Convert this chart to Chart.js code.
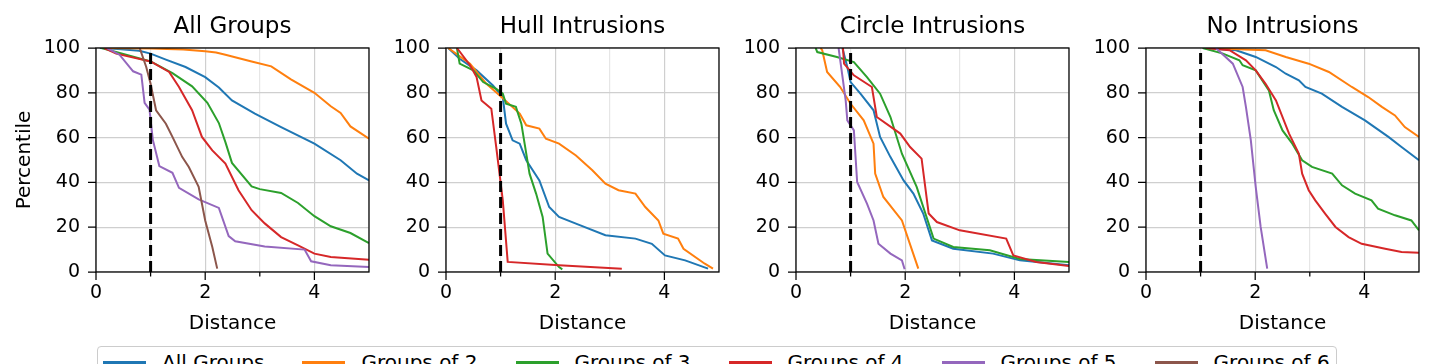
<!DOCTYPE html>
<html lang="en">
<head>
<meta charset="utf-8" />
<title>Distance percentiles by intrusion type</title>
<script src="https://cdn.jsdelivr.net/npm/chart.js"></script>
<style>
    html, body { margin: 0; padding: 0; background: #fff; overflow: hidden; }
    body { width: 1435px; height: 364px; position: relative; font-family: "DejaVu Sans", sans-serif; }
    .panel { position: absolute; top: 0; height: 336px; }
    #legend {
        position: absolute; left: 97px; top: 346px; height: 44px;
        border: 1px solid #cccccc; border-radius: 4px; background: #fff;
        display: flex; column-gap: 38px; padding: 3px 6px 0 5px; box-sizing: border-box;
        font-size: 20px; line-height: 24px; color: #000; white-space: nowrap;
    }
    #legend .item { display: flex; align-items: flex-start; }
    #legend .handle { display: inline-block; width: 43px; height: 2.5px; margin: 11px 16px 0 0; }
</style>
</head>
<body>
<div class="panel" id="wrap0"><canvas id="chart0"></canvas></div>
<div class="panel" id="wrap1"><canvas id="chart1"></canvas></div>
<div class="panel" id="wrap2"><canvas id="chart2"></canvas></div>
<div class="panel" id="wrap3"><canvas id="chart3"></canvas></div>
<div id="legend"></div>

<script>
    // ---- data: [distance, percentile] ----
    const panelTitles = ['All Groups', 'Hull Intrusions', 'Circle Intrusions', 'No Intrusions'];
    const seriesNames = ['All Groups', 'Groups of 2', 'Groups of 3', 'Groups of 4', 'Groups of 5', 'Groups of 6'];
    const seriesColors = ['#1f77b4', '#ff7f0e', '#2ca02c', '#d62728', '#9467bd', '#8c564b'];
    const xMajorTicks = [0, 2, 4];
    const yTicks = [0, 20, 40, 60, 80, 100];
    const threshold = 1;

    // All Groups panel
    const allAll = [[0.07,100],[0.4,99.5],[0.79,98.8],[1.0,97.5],[1.28,94.8],[1.64,91.5],[2.0,87],[2.25,82.4],[2.49,76.6],[2.91,70.7],[3.39,64.7],[4.0,57.3],[4.48,49.9],[4.78,43.9],[5.0,40.9]];
    const allG2 = [[0.1,100],[1.0,99.8],[1.6,99.3],[2.0,98.5],[2.2,98],[2.37,97],[2.85,94],[3.21,91.8],[3.57,86],[4.0,80],[4.3,74],[4.48,71],[4.66,65],[5.0,59.5]];
    const allG3 = [[0.1,100],[0.25,99],[1.0,94],[1.4,88.8],[1.76,82.9],[2.04,75.5],[2.25,66.5],[2.37,58],[2.49,48.7],[2.85,38.2],[3.0,37],[3.39,35.3],[3.7,30.8],[4.0,24.9],[4.3,20.4],[4.66,17.4],[5.0,12.9]];
    const allG4 = [[0.15,100],[0.37,97.5],[1.0,94],[1.34,89.3],[1.52,82.6],[1.76,72.2],[1.94,60.3],[2.13,54.3],[2.37,48.4],[2.61,36.5],[2.85,27.6],[3.09,21.7],[3.39,15.6],[3.7,11.9],[4.0,8.2],[4.3,6.7],[5.0,5.5]];
    const allG5 = [[0.2,100],[0.43,97],[0.68,89.6],[0.83,88.1],[0.89,75.5],[0.98,72.5],[1.04,59.1],[1.16,47.3],[1.4,44.3],[1.52,37.6],[1.88,32.4],[2.25,28.6],[2.43,16],[2.55,13.7],[3.09,11.4],[3.82,10],[3.94,4.8],[4.3,3],[5.0,2.2]];
    const allG6 = [[0.8,100],[0.92,91.5],[1.0,84],[1.1,72.2],[1.28,66.2],[1.4,60.3],[1.58,51.3],[1.7,46.9],[1.88,38],[2.0,23],[2.13,11.2],[2.22,1.5]];

    // Hull Intrusions panel
    const hullAll = [[0.04,100],[0.25,95.2],[0.56,90],[0.86,83.3],[1.04,78],[1.1,66.2],[1.22,58.8],[1.35,57.3],[1.47,49.9],[1.71,40.9],[1.89,29],[2.07,24.6],[2.38,21.6],[2.92,16.4],[3.47,14.9],[3.77,12.6],[4.01,7.4],[4.38,5.2],[4.8,1.5]];
    const hullG2 = [[0.04,100],[0.44,93],[0.74,84],[0.98,78.9],[1.35,70.7],[1.47,65.5],[1.71,64],[1.83,59.5],[2.07,57.3],[2.38,52],[2.68,45.4],[2.92,39.4],[3.16,36.5],[3.47,35],[3.65,29],[3.89,23],[3.98,17.1],[4.25,14.9],[4.35,10.4],[4.74,3.7],[4.89,1.5]];
    const hullG3 = [[0.2,100],[0.25,93],[0.5,90],[0.68,84.8],[0.92,81.8],[1.04,79.6],[1.1,75.1],[1.28,73.7],[1.38,66.2],[1.44,57.3],[1.53,43.9],[1.65,35],[1.77,24.6],[1.86,8.2],[2.07,2.2],[2.13,1.2]];
    const hullG4 = [[0.2,100],[0.44,92.3],[0.56,87],[0.65,76.6],[0.83,72.9],[0.92,55.8],[0.98,43.9],[1.04,32],[1.13,4.5],[2.07,3],[3.22,1.5]];

    // Circle Intrusions panel
    const circAll = [[0.85,100],[0.94,91.5],[1.0,84.8],[1.18,79.6],[1.42,72.2],[1.54,60.3],[1.73,51.3],[1.97,40.9],[2.15,35],[2.33,26.1],[2.49,14.1],[2.88,10.4],[3.61,8.2],[4.1,5.2],[5.0,3]];
    const circG2 = [[0.45,100],[0.48,99],[0.57,89.3],[0.81,82.6],[1.0,75.1],[1.24,67.7],[1.42,57.3],[1.45,43.9],[1.6,33.5],[1.94,23],[2.24,1.5]];
    const circG3 = [[0.36,100],[0.39,98.2],[0.75,96],[1.06,93.7],[1.3,87],[1.54,79.6],[1.73,69.2],[1.94,52.8],[2.21,38],[2.52,14.9],[2.88,11.2],[3.55,9.7],[4.1,5.8],[5.0,4.5]];
    const circG4 = [[0.86,100],[0.88,93],[1.06,87.8],[1.39,82.6],[1.48,69.2],[1.91,61.8],[2.09,55.8],[2.3,50.6],[2.43,26.1],[2.58,22.3],[3.0,18.6],[3.85,14.9],[3.98,7.4],[4.4,4.5],[5.0,2.7]];
    const circG5 = [[0.78,100],[0.91,76.6],[0.94,67.7],[1.06,63.2],[1.12,40.2],[1.3,30.5],[1.42,23],[1.51,12.6],[1.73,8.2],[1.94,5.2],[1.99,1.2]];

    // No Intrusions panel
    const noneAll = [[1.04,100],[1.65,99],[2.01,96],[2.38,91.5],[2.56,88.5],[2.8,85.6],[2.92,82.6],[3.22,79.6],[3.59,73.7],[4.01,67.7],[4.44,60.3],[4.68,55.8],[5.0,49.9]];
    const noneG2 = [[1.04,100],[2.19,99],[2.56,96],[2.98,93],[3.35,89.3],[3.77,82.6],[4.07,78.1],[4.32,73.7],[4.56,69.9],[4.74,64.7],[5.0,60.3]];
    const noneG3 = [[1.04,100],[1.41,97.5],[1.71,94.5],[1.77,92.3],[2.01,90],[2.25,81.1],[2.34,72.2],[2.5,63.2],[2.68,57.3],[2.86,49.9],[3.04,46.9],[3.41,43.9],[3.59,38.7],[3.83,35],[4.13,32],[4.25,28.3],[4.56,25.3],[4.86,23],[5.0,18.6]];
    const noneG4 = [[1.1,100],[1.53,99],[1.83,94.5],[2.01,90],[2.19,84],[2.38,76.6],[2.62,61.8],[2.8,52.8],[2.86,43.9],[2.98,36.5],[3.1,32],[3.28,26.1],[3.47,20.1],[3.71,15.6],[3.95,12.6],[4.38,10.4],[4.68,8.9],[5.0,8.6]];
    const noneG5 = [[1.28,100],[1.59,93],[1.77,82.6],[1.83,73.7],[1.92,58.8],[2.01,37.9],[2.1,20.1],[2.22,1.5]];

    // per panel: one entry per series (null = not plotted)
    const panelSeries = [
        [allAll, allG2, allG3, allG4, allG5, allG6],
        [hullAll, hullG2, hullG3, hullG4, null, null],
        [circAll, circG2, circG3, circG4, circG5, null],
        [noneAll, noneG2, noneG3, noneG4, noneG5, null]
    ];

    // ---- layout ----
    const FONT = '"DejaVu Sans", sans-serif';
    const plotLefts = [96, 446, 796, 1146];
    const plotWidth = 275;
    const rightPad = 8;

    // spines + tick marks drawn on top, matplotlib style
    const frameTicks = {
        id: 'frameTicks',
        afterDatasetsDraw(chart) {
            const { ctx, chartArea: a, scales: { x, y } } = chart;
            ctx.save();
            ctx.strokeStyle = '#000';
            ctx.lineWidth = 1.25;
            ctx.strokeRect(a.left, a.top, a.right - a.left, a.bottom - a.top);
            ctx.beginPath();
            x.ticks.forEach(t => {
                if (t.value >= 5) return;
                const px = x.getPixelForValue(t.value);
                const len = xMajorTicks.includes(t.value) ? 8 : 4.5;
                ctx.moveTo(px, a.bottom);
                ctx.lineTo(px, a.bottom + len);
            });
            y.ticks.forEach(t => {
                const py = y.getPixelForValue(t.value);
                ctx.moveTo(a.left, py);
                ctx.lineTo(a.left - 8, py);
            });
            ctx.stroke();
            ctx.restore();
        }
    };

    function makePanel(i) {
        const yWidth = i === 0 ? 96 : 60;
        const wrap = document.getElementById('wrap' + i);
        wrap.style.left = (plotLefts[i] - yWidth) + 'px';
        wrap.style.width = (yWidth + plotWidth + rightPad) + 'px';

        const datasets = [];
        panelSeries[i].forEach((pts, s) => {
            if (!pts) return;
            datasets.push({
                label: seriesNames[s],
                data: pts.map(p => ({ x: p[0], y: p[1] })),
                borderColor: seriesColors[s],
                borderWidth: 2,
                pointRadius: 0,
                tension: 0,
                fill: false,
                order: 10 - s
            });
        });
        datasets.push({
            label: 'threshold',
            data: [{ x: threshold, y: 0 }, { x: threshold, y: 100 }],
            borderColor: '#000',
            borderWidth: 3,
            borderDash: [11, 5],
            pointRadius: 0,
            fill: false,
            order: 0
        });

        new Chart(document.getElementById('chart' + i), {
            type: 'line',
            data: { datasets: datasets },
            options: {
                responsive: true,
                maintainAspectRatio: false,
                animation: false,
                layout: { padding: { left: 0, right: rightPad, top: 0, bottom: 0 } },
                plugins: {
                    legend: { display: false },
                    tooltip: { enabled: false },
                    title: {
                        display: true,
                        text: panelTitles[i],
                        fullSize: false,
                        color: '#000',
                        font: { family: FONT, size: 23, weight: 'normal', lineHeight: '28px' },
                        padding: { top: 13, bottom: 7 }
                    }
                },
                scales: {
                    x: {
                        type: 'linear',
                        min: 0,
                        max: 5,
                        afterFit: s => { s.height = 64; },
                        border: { display: false },
                        grid: {
                            drawTicks: false,
                            lineWidth: 1.2,
                            color: c => xMajorTicks.includes(c.tick && c.tick.value) ? '#cfcfcf' : '#e6e6e6'
                        },
                        ticks: {
                            stepSize: 1,
                            autoSkip: false,
                            maxRotation: 0,
                            padding: 10,
                            color: '#000',
                            font: { family: FONT, size: 19 },
                            callback: v => xMajorTicks.includes(v) ? String(v) : ''
                        },
                        title: {
                            display: true,
                            text: 'Distance',
                            color: '#000',
                            font: { family: FONT, size: 20 },
                            padding: { top: 0, bottom: 0 }
                        }
                    },
                    y: {
                        min: 0,
                        max: 100,
                        afterFit: s => { s.width = yWidth; },
                        border: { display: false },
                        grid: { drawTicks: false, lineWidth: 1.2, color: '#cfcfcf' },
                        ticks: {
                            stepSize: 20,
                            padding: 16,
                            color: '#000',
                            font: { family: FONT, size: 19 },
                            callback: v => yTicks.includes(v) ? String(v) : ''
                        },
                        title: {
                            display: i === 0,
                            text: 'Percentile',
                            color: '#000',
                            font: { family: FONT, size: 20 },
                            padding: { top: 13, bottom: 0 }
                        }
                    }
                }
            },
            plugins: [frameTicks]
        });
    }

    for (let i = 0; i < 4; i++) makePanel(i);

    // shared legend below the panels
    const legend = document.getElementById('legend');
    seriesNames.forEach((name, s) => {
        const item = document.createElement('div');
        item.className = 'item';
        const handle = document.createElement('span');
        handle.className = 'handle';
        handle.style.background = seriesColors[s];
        const label = document.createElement('span');
        label.textContent = name;
        item.appendChild(handle);
        item.appendChild(label);
        legend.appendChild(item);
    });
</script>
</body>
</html>
